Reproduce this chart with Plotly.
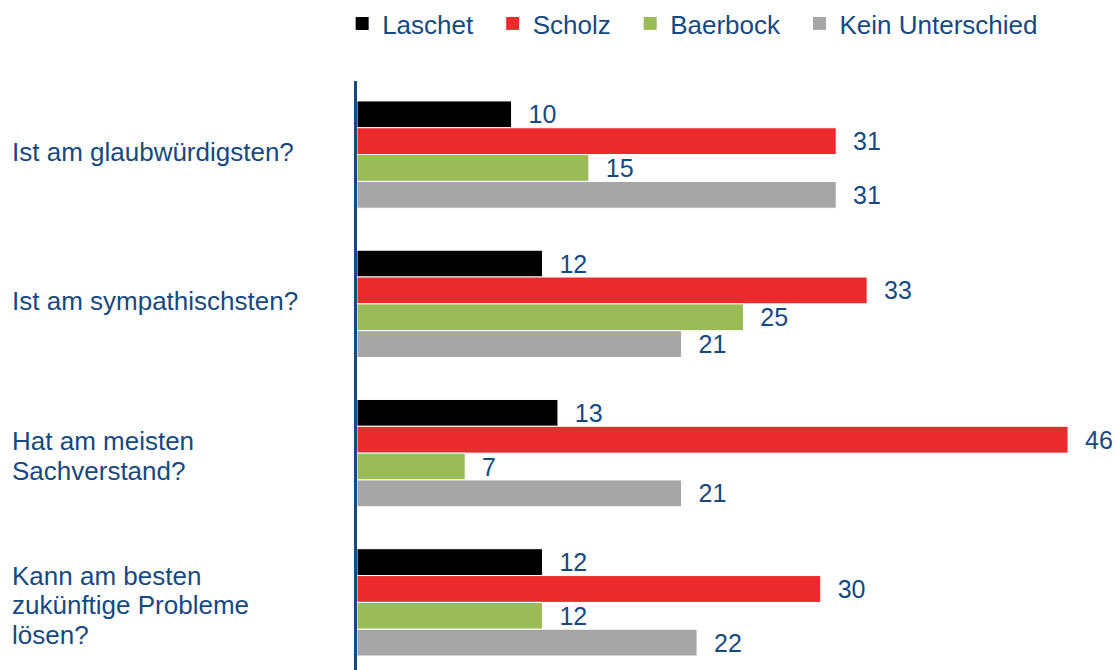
import plotly.graph_objects as go

# Survey question categories (top to bottom), one entry per line
categories = [
    ["Ist am glaubwürdigsten?"],
    ["Ist am sympathischsten?"],
    ["Hat am meisten", "Sachverstand?"],
    ["Kann am besten", "zukünftige Probleme", "lösen?"],
]

laschet = [10, 12, 13, 12]
scholz = [31, 33, 46, 30]
baerbock = [15, 25, 7, 12]
kein_unterschied = [31, 21, 21, 22]

series = [
    ("Laschet", laschet, "#000000"),
    ("Scholz", scholz, "#EA2A2D"),
    ("Baerbock", baerbock, "#9BBB59"),
    ("Kein Unterschied", kein_unterschied, "#A6A6A6"),
]

TEXT_COLOR = "#17497F"
FONT = "Liberation Sans, Arial, sans-serif"
FS = 25
NBSP = "\u00a0"
LINE_STEP = 29.5

positions = list(range(len(categories)))

fig = go.Figure()
for name, values, color in series:
    fig.add_trace(go.Bar(
        name=name,
        y=positions,
        x=values,
        orientation="h",
        marker=dict(color=color, line=dict(color="white", width=1)),
        text=values,
        texttemplate=NBSP * 2 + "%{x}",
        textposition="outside",
        textfont=dict(color=TEXT_COLOR, size=FS, family=FONT),
        cliponaxis=False,
        constraintext="none",
        hoverinfo="skip",
        showlegend=False,
    ))

# Legend entries with square swatches
for name, values, color in series:
    fig.add_trace(go.Scatter(
        name=name + NBSP * 2,
        x=[None], y=[None],
        mode="markers",
        marker=dict(symbol="square", size=13, color=color),
        showlegend=True,
        hoverinfo="skip",
    ))

# Left-aligned category labels, one annotation per line
for pos, lines in zip(positions, categories):
    n = len(lines)
    base = 3 if n == 1 else -3
    for i, line in enumerate(lines):
        fig.add_annotation(
            x=-0.4677, xref="paper", xanchor="left",
            y=pos, yref="y", yanchor="middle",
            yshift=base + ((n - 1) / 2 - i) * LINE_STEP,
            text=line, showarrow=False, align="left",
            font=dict(color=TEXT_COLOR, size=26, family=FONT),
        )

fig.update_layout(
    width=1116, height=670,
    margin=dict(l=357, r=17, t=77, b=0),
    paper_bgcolor="white", plot_bgcolor="white",
    barmode="group", bargap=0.281, bargroupgap=0,
    font=dict(family=FONT, color=TEXT_COLOR, size=FS),
    showlegend=True,
    legend=dict(
        orientation="h", x=-0.020, xanchor="left",
        y=1.098, yanchor="middle",
        font=dict(size=FS + 1, color=TEXT_COLOR, family=FONT),
        itemclick=False, itemdoubleclick=False,
        traceorder="normal",
    ),
    xaxis=dict(range=[0, 48], showgrid=False, zeroline=False,
               showticklabels=False, showline=False, fixedrange=True),
    yaxis=dict(range=[3.453, -0.493], showgrid=False, zeroline=False,
               showticklabels=False, showline=True, linecolor=TEXT_COLOR,
               linewidth=2.5, ticks="", fixedrange=True),
)

fig.write_html("out.html")
